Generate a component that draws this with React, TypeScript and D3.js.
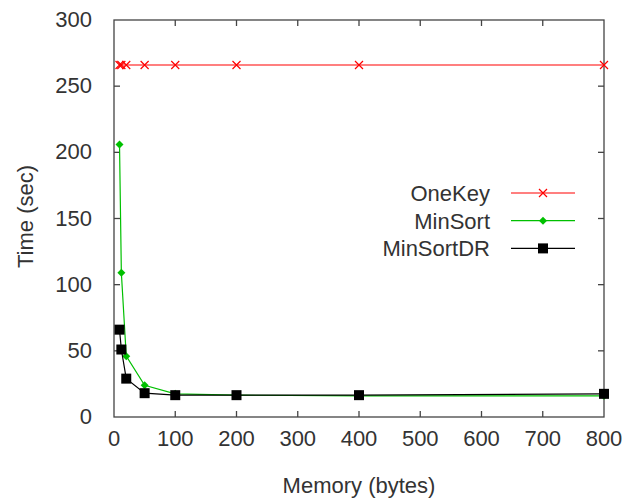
import { useRef, useEffect } from "react";
import * as d3 from "d3";

// memory sizes (bytes) and run times (sec)
const memory = [9, 12, 20, 50, 100, 200, 400, 800];
const oneKey = [266, 266, 266, 266, 266, 266, 266, 266];
const minSort = [206, 109, 46, 24, 17.5, 16.5, 16, 16];
const minSortDR = [66, 51, 29, 18, 16.5, 16.5, 16.5, 17.5];

const xTicks = [0, 100, 200, 300, 400, 500, 600, 700, 800];
const yTicks = [0, 50, 100, 150, 200, 250, 300];

const seriesNames = ["OneKey", "MinSort", "MinSortDR"];
const seriesColors = ["#ff0000", "#00c000", "#000000"];

export default function App() {
  const svgRef = useRef<SVGSVGElement>(null);
  const W = 634, H = 502;

  useEffect(() => {
    if (!svgRef.current) return;
    const svg = d3.select(svgRef.current);
    svg.selectAll("*").remove();

    const m = { top: 20, right: 30, bottom: 85, left: 114 };
    const iW = W - m.left - m.right;
    const iH = H - m.top - m.bottom;
    const font = "'Liberation Sans', Arial, sans-serif";
    const fs = "22px";
    const g = svg.append("g").attr("transform", `translate(${m.left},${m.top})`);

    const x = d3.scaleLinear().domain([0, 800]).range([0, iW]);
    const y = d3.scaleLinear().domain([0, 300]).range([iH, 0]);

    // border box
    g.append("rect").attr("width", iW).attr("height", iH)
      .attr("fill", "none").attr("stroke", "#444").attr("stroke-width", 1.3);

    // ticks, gnuplot style: inward on all four sides
    const tl = 6;
    xTicks.slice(1, -1).forEach(t => {
      g.append("line").attr("x1", x(t)).attr("x2", x(t)).attr("y1", iH).attr("y2", iH - tl)
        .attr("stroke", "#444").attr("stroke-width", 1.3);
      g.append("line").attr("x1", x(t)).attr("x2", x(t)).attr("y1", 0).attr("y2", tl)
        .attr("stroke", "#444").attr("stroke-width", 1.3);
    });
    yTicks.slice(1, -1).forEach(t => {
      g.append("line").attr("x1", 0).attr("x2", tl).attr("y1", y(t)).attr("y2", y(t))
        .attr("stroke", "#444").attr("stroke-width", 1.3);
      g.append("line").attr("x1", iW).attr("x2", iW - tl).attr("y1", y(t)).attr("y2", y(t))
        .attr("stroke", "#444").attr("stroke-width", 1.3);
    });

    // tick labels
    xTicks.forEach(t => {
      g.append("text").attr("x", x(t)).attr("y", iH + 29)
        .attr("text-anchor", "middle").attr("font-family", font).attr("font-size", fs)
        .attr("fill", "#333").text(t);
    });
    yTicks.forEach(t => {
      g.append("text").attr("x", -22).attr("y", y(t) + 7)
        .attr("text-anchor", "end").attr("font-family", font).attr("font-size", fs)
        .attr("fill", "#333").text(t);
    });

    // axis titles
    g.append("text").attr("x", iW / 2).attr("y", iH + 76)
      .attr("text-anchor", "middle").attr("font-family", font).attr("font-size", fs)
      .attr("fill", "#333").text("Memory (bytes)");
    g.append("text").attr("transform", "rotate(-90)").attr("x", -iH / 2 + 2).attr("y", -81)
      .attr("text-anchor", "middle").attr("font-family", font).attr("font-size", fs)
      .attr("fill", "#333").text("Time (sec)");

    const allSeries = [oneKey, minSort, minSortDR];
    const line = d3.line<[number, number]>().x(d => x(d[0])).y(d => y(d[1]));

    const drawMarker = (sel: d3.Selection<SVGGElement, unknown, null, undefined>, i: number, cx: number, cy: number) => {
      const c = seriesColors[i];
      if (i === 0) {
        const s = 4;
        sel.append("path").attr("d", `M${cx - s},${cy - s}L${cx + s},${cy + s}M${cx - s},${cy + s}L${cx + s},${cy - s}`)
          .attr("stroke", c).attr("stroke-width", 1.2).attr("fill", "none");
      } else if (i === 1) {
        const s = 4;
        sel.append("path").attr("d", `M${cx},${cy - s}L${cx + s},${cy}L${cx},${cy + s}L${cx - s},${cy}Z`)
          .attr("fill", c);
      } else {
        const s = 5;
        sel.append("rect").attr("x", cx - s).attr("y", cy - s).attr("width", 2 * s).attr("height", 2 * s)
          .attr("fill", c);
      }
    };

    allSeries.forEach((vals, i) => {
      const pts = memory.map((mm, k) => [mm, vals[k]] as [number, number]);
      g.append("path").datum(pts).attr("d", line)
        .attr("fill", "none").attr("stroke", seriesColors[i]).attr("stroke-width", 1.2);
      const mg = g.append("g");
      pts.forEach(p => drawMarker(mg, i, x(p[0]), y(p[1])));
    });

    // legend
    const lg = svg.append("g");
    seriesNames.forEach((name, i) => {
      const ly = 193 + i * 27.7;
      lg.append("text").attr("x", 490).attr("y", ly + 8)
        .attr("text-anchor", "end").attr("font-family", font).attr("font-size", fs)
        .attr("fill", "#333").text(name);
      lg.append("line").attr("x1", 511).attr("x2", 575).attr("y1", ly).attr("y2", ly)
        .attr("stroke", seriesColors[i]).attr("stroke-width", 1.2);
      drawMarker(lg, i, 543, ly);
    });
  }, []);

  return (
    <div style={{ position: "fixed", left: 0, top: 0, width: W, height: H, background: "#fff" }}>
      <svg ref={svgRef} width={W} height={H} />
    </div>
  );
}
